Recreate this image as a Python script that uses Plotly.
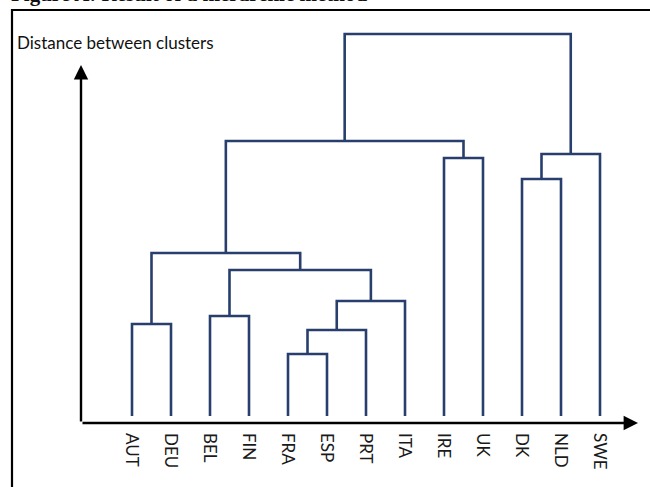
import plotly.graph_objects as go

# Leaves in dendrogram order
leaves = ["AUT", "DEU", "BEL", "FIN", "FRA", "ESP", "PRT", "ITA", "IRE", "UK", "DK", "NLD", "SWE"]

# Merges (linkage): ids 0..12 are leaves, each merge creates id 13, 14, ... in order
merge_left = [0, 2, 4, 15, 16, 14, 13, 8, 10, 21, 19, 23]
merge_right = [1, 3, 5, 6, 7, 17, 18, 9, 11, 12, 20, 22]
merge_height = [0.92, 1.00, 0.62, 0.86, 1.15, 1.46, 1.63, 2.58, 2.37, 2.62, 2.75, 3.82]

LINE_COLOR = "#283f6e"

pos = {i: float(i) for i in range(len(leaves))}
hgt = {i: 0.0 for i in range(len(leaves))}
xs, ys = [], []
nid = len(leaves)
for l, r, h in zip(merge_left, merge_right, merge_height):
    xl, xr = pos[l], pos[r]
    xs += [xl, xl, xr, xr, None]
    ys += [hgt[l], h, h, hgt[r], None]
    pos[nid] = (xl + xr) / 2
    hgt[nid] = h
    nid += 1

fig = go.Figure()
fig.add_trace(go.Scatter(x=xs, y=ys, mode="lines",
                         line=dict(color=LINE_COLOR, width=2.6),
                         hoverinfo="skip", showlegend=False))

L, R, T, B = 81, 12, 20, 64
W, H = 650, 487
PW, PH = W - L - R, H - T - B
x_per_px = 1 / 39.0
x0 = -(132 - L) * x_per_px
x1 = x0 + PW * x_per_px
y_per_px = 1 / 100.0
y0 = -(423 - 416) * y_per_px
y1 = y0 + PH * y_per_px

def px_to_paper_x(px):
    return (px - L) / PW

def px_to_paper_y(py):
    return 1 - (py - T) / PH

fig.update_layout(
    width=W, height=H,
    margin=dict(l=L, r=R, t=T, b=B),
    paper_bgcolor="white", plot_bgcolor="white",
    xaxis=dict(range=[x0, x1], showgrid=False, zeroline=False, showline=False,
               tickmode="array", tickvals=list(range(len(leaves))), ticktext=leaves,
               tickangle=90, ticks="", ticklabelstandoff=9,
               tickfont=dict(family="Lato", size=17, color="#1a1a1a")),
    yaxis=dict(range=[y0, y1], showgrid=False, zeroline=False, showline=False,
               showticklabels=False, ticks=""),
    font=dict(family="Lato"),
)

# axis arrows
fig.add_annotation(x=x0, y=(416 - 65) * y_per_px, ax=x0, ay=y0, xref="x", yref="y",
                   axref="x", ayref="y", showarrow=True, arrowhead=2, arrowsize=1.2,
                   arrowwidth=2.4, arrowcolor="black", text="")
fig.add_annotation(x=x1, y=y0, ax=x0, ay=y0, xref="x", yref="y",
                   axref="x", ayref="y", showarrow=True, arrowhead=2, arrowsize=1.2,
                   arrowwidth=2.4, arrowcolor="black", text="")

# axis title
fig.add_annotation(x=px_to_paper_x(15), y=px_to_paper_y(43), xref="paper", yref="paper",
                   xanchor="left", yanchor="middle", showarrow=False,
                   text="Distance between clusters",
                   font=dict(family="Lato", size=17, color="#111111"))

# figure title, cut off at the top edge as in the source
fig.add_annotation(x=px_to_paper_x(9), y=px_to_paper_y(8), xref="paper", yref="paper",
                   xanchor="left", yanchor="bottom", showarrow=False,
                   text="<b>Figure A: Result of a hierarchic method</b>",
                   font=dict(family="Liberation Serif", size=21, color="#111111"))

# frame
fig.add_shape(type="rect", xref="paper", yref="paper",
              x0=px_to_paper_x(12), x1=px_to_paper_x(653),
              y0=px_to_paper_y(495), y1=px_to_paper_y(10),
              line=dict(color="black", width=2.2), fillcolor="rgba(0,0,0,0)", layer="below")

fig.write_html("out.html", config={"displayModeBar": False},
               post_script="document.body.style.margin='0px';document.body.style.overflow='hidden';")
